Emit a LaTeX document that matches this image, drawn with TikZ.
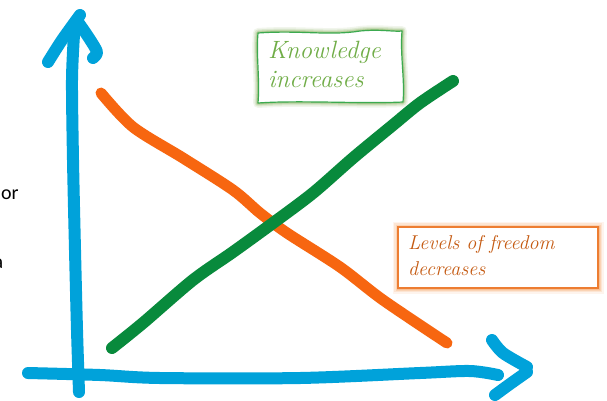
\documentclass[tikz,border=0pt]{standalone}
\usepackage{fontspec}
\newfontfamily\calib{Carlito}
\definecolor{axisblue}{RGB}{0,162,218}
\definecolor{linegreen}{RGB}{8,138,60}
\definecolor{lineorange}{RGB}{247,102,16}
\definecolor{kgreen}{RGB}{112,173,71}
\definecolor{kborder}{RGB}{60,170,80}
\definecolor{kglow}{RGB}{140,180,100}
\definecolor{ltext}{RGB}{197,90,17}
\definecolor{lborder}{RGB}{237,125,49}
\definecolor{lglow}{RGB}{248,170,110}
\tikzset{
  stroke/.style={line cap=round, line join=round},
  axisline/.style={stroke, draw=axisblue, line width=12pt},
  greenline/.style={stroke, draw=linegreen, line width=12pt},
  orangeline/.style={stroke, draw=lineorange, line width=11pt},
  ktext/.style={anchor=base west, inner sep=0pt, text=kgreen, font=\fontsize{25}{30}\selectfont\itshape},
  ltextstyle/.style={anchor=base west, inner sep=0pt, text=ltext, font=\fontsize{20}{24}\selectfont\itshape},
  sidetext/.style={anchor=base west, inner sep=0pt, text=black, font=\calib\fontsize{20}{24}\selectfont},
}
\begin{document}
\begin{tikzpicture}[x=1pt,y=-1pt]
\useasboundingbox[fill=white] (0,0) rectangle (607,400);

% side texts (cut off at the left edge, as in the reference)
\node[sidetext] (or) at (1,199) {or};
\node[sidetext] (a) at (-6.5,268) {a};

% vertical axis
\draw[axisline] plot[smooth] coordinates {(79,392) (77,330) (75,250) (73,160) (72,80) (74,35)};
\draw[axisline] plot[smooth] coordinates {(48,62) (62,40) (80,15)};
\draw[axisline] plot[smooth] coordinates {(78,22) (89,38) (97,52) (93,58)};

% horizontal axis
\draw[axisline] plot[smooth] coordinates {(28,373) (100,375) (160,378) (300,378) (420,373) (470,371) (498,375)};
\draw[axisline] plot[smooth] coordinates {(492,340) (503,353) (527,367)};
\draw[axisline] plot[smooth] coordinates {(527,372) (510,384) (495,395)};

% orange line
\draw[orangeline] plot[smooth] coordinates {(101,93) (133,127) (183,158) (233,190) (260,213) (287,233) (340,267) (383,300) (447,343)};

% green line
\draw[greenline] plot[smooth] coordinates {(112,348) (143,323) (193,280) (233,252) (273,223) (313,193) (353,158) (393,125) (420,103) (453,81)};

% Knowledge box
\foreach \w/\o in {10/0.12, 7/0.2, 4.5/0.3, 2.5/0.45}{
  \draw[kglow, line width=\w pt, opacity=\o, line join=round]
    (258,33) .. controls (300,30) and (330,36) .. (360,31) .. controls (380,29) and (395,32) .. (402,31)
    .. controls (400,55) and (405,80) .. (403,102)
    .. controls (360,104) and (300,100) .. (258,103)
    .. controls (260,80) and (256,55) .. (258,33) -- cycle;
}
\draw[kborder, line width=1.2pt, fill=white, line join=round]
    (258,33) .. controls (300,30) and (330,36) .. (360,31) .. controls (380,29) and (395,32) .. (402,31)
    .. controls (400,55) and (405,80) .. (403,102)
    .. controls (360,104) and (300,100) .. (258,103)
    .. controls (260,80) and (256,55) .. (258,33) -- cycle;
\node[ktext] (k1) at (268,58) {Knowledge};
\node[ktext] (k2) at (268,87) {increases};

% Levels box
\foreach \w/\o in {11/0.12, 8/0.2, 5/0.3, 3/0.45}{
  \draw[lglow, line width=\w pt, opacity=\o] (398,227) rectangle (598,288);
}
\draw[lborder, line width=1.2pt, fill=white] (398,227) rectangle (598,288);
\node[ltextstyle] (l1) at (408,249) {Levels of freedom};
\node[ltextstyle] (l2) at (408,275) {decreases};
\end{tikzpicture}
\end{document}
